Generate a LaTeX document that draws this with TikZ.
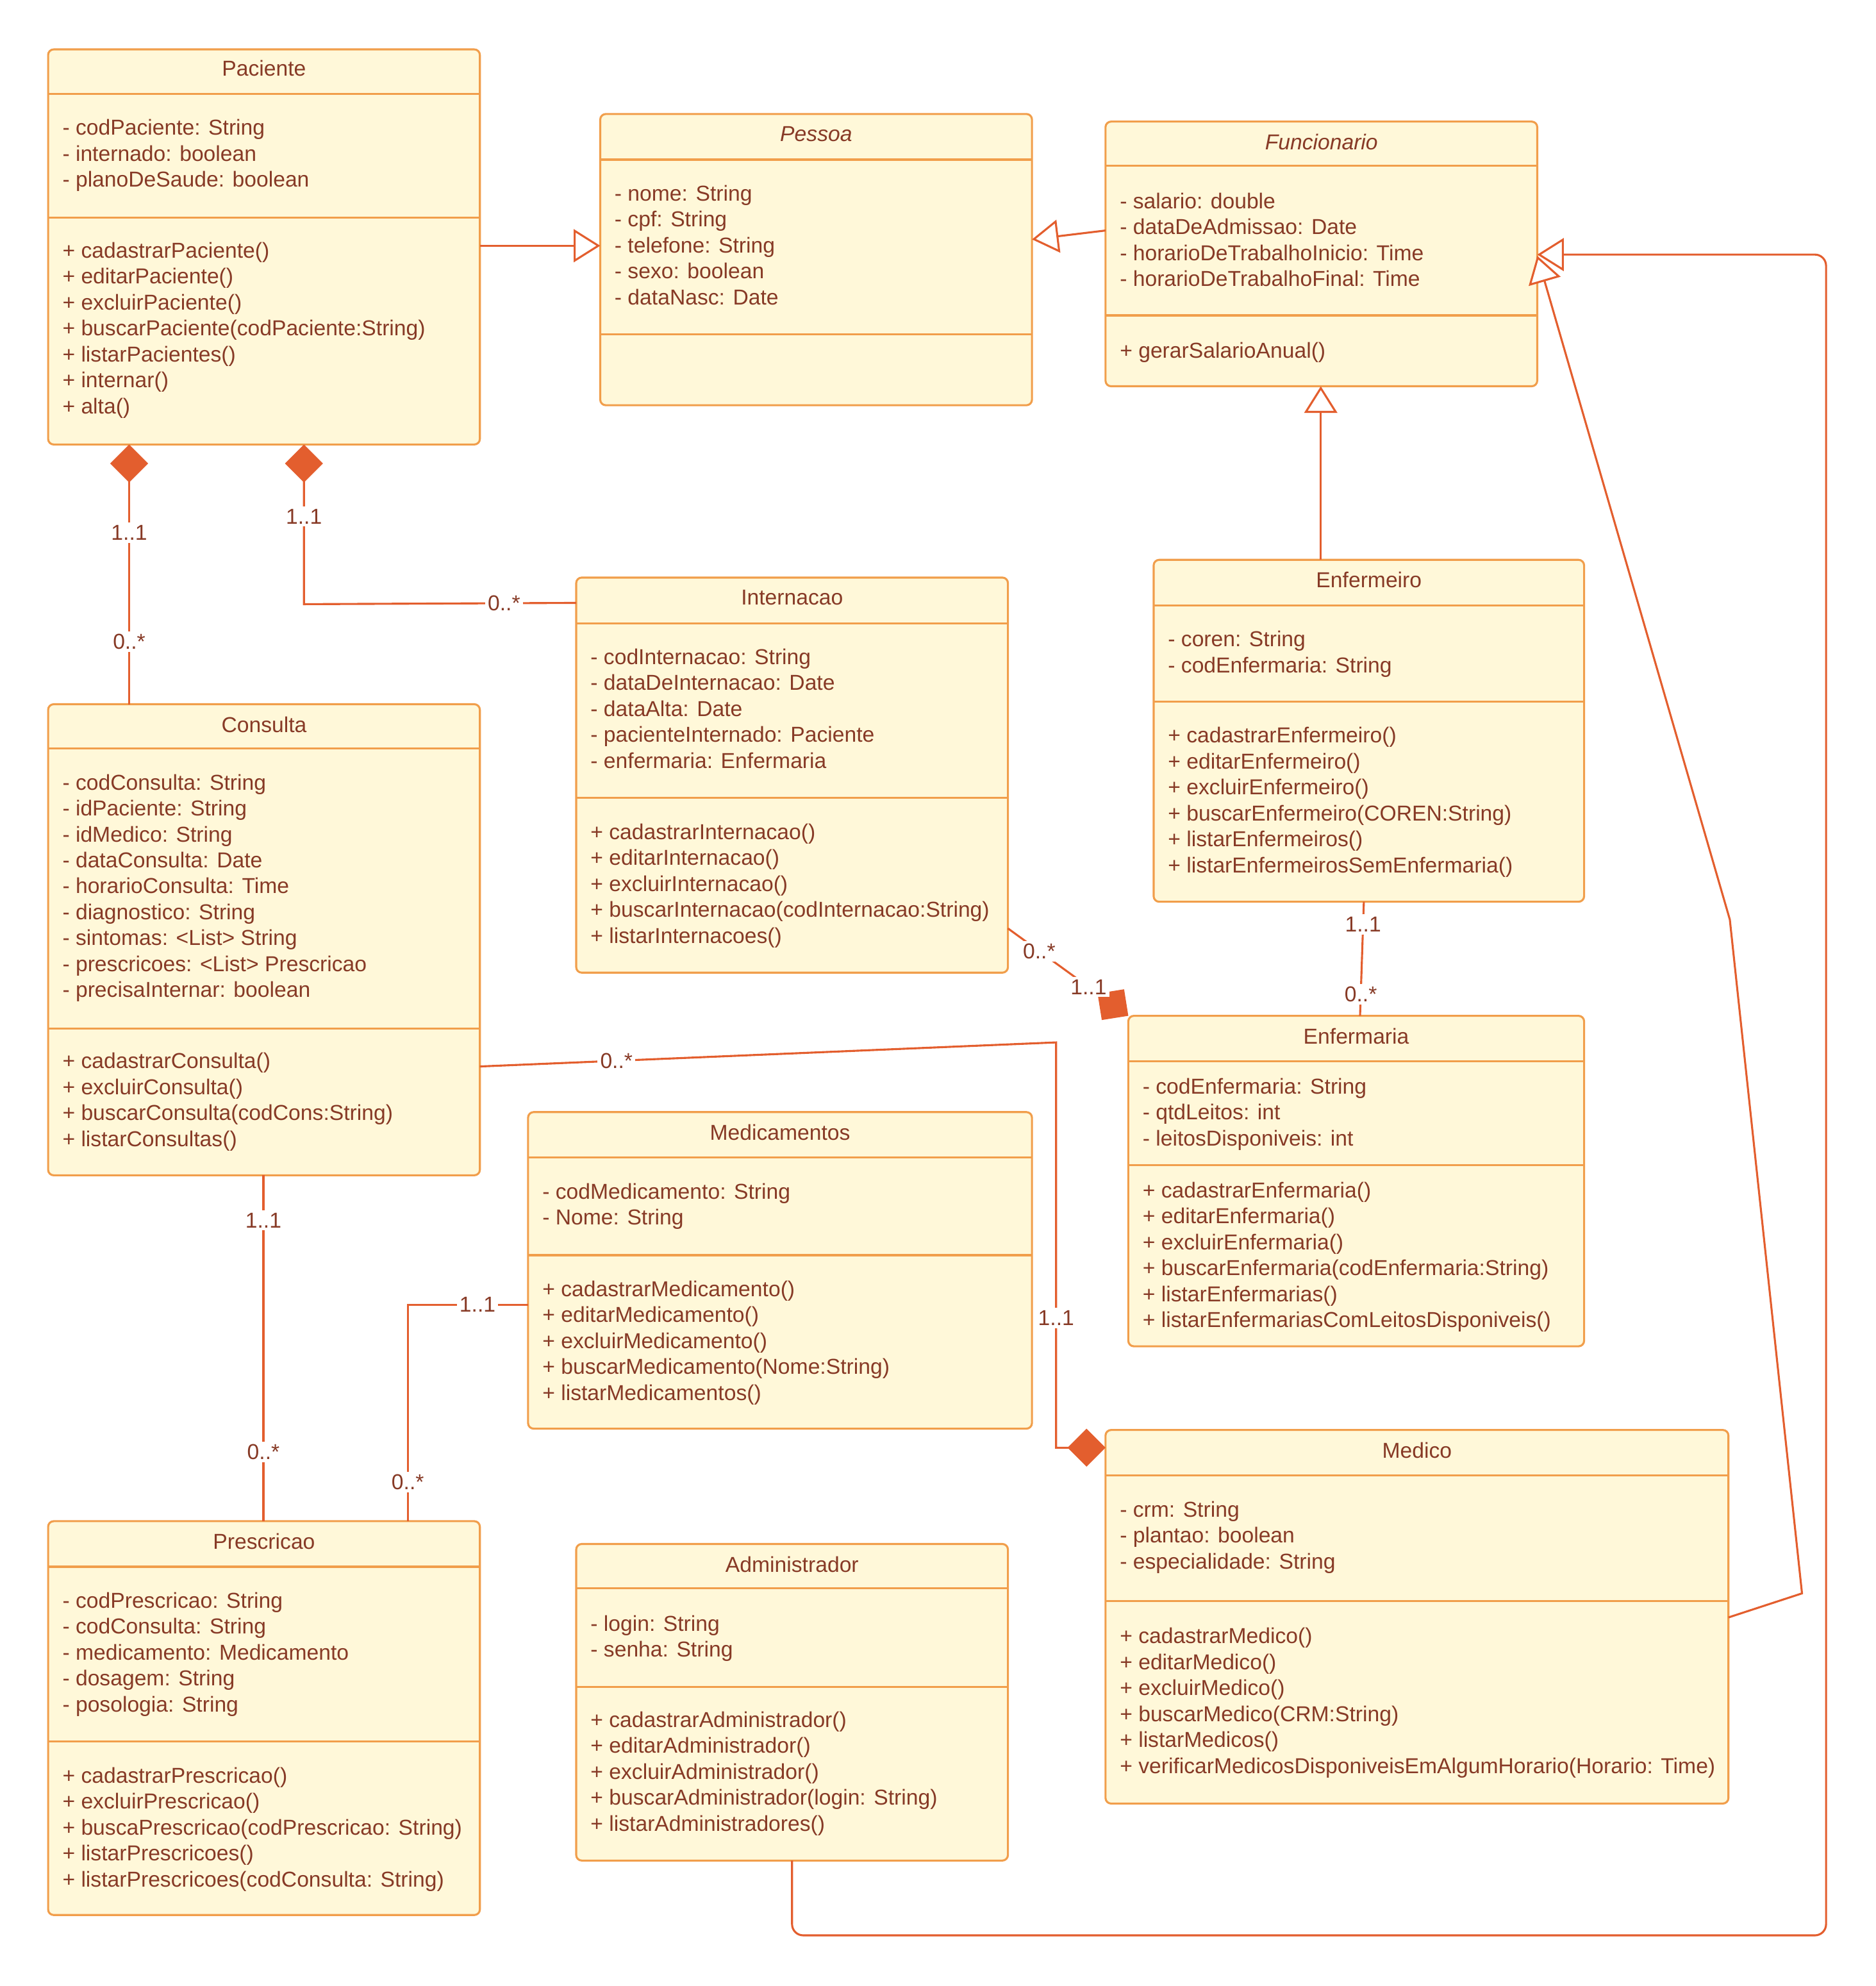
\documentclass[tikz,border=0pt]{standalone}
\usepackage{fontspec}
\setmainfont{Liberation Sans}
\usepackage{xcolor}
\usetikzlibrary{arrows.meta, positioning, calc}
\definecolor{clsfill}{HTML}{FFF8D9}
\definecolor{clsdraw}{HTML}{F19E4B}
\definecolor{linkc}{HTML}{E35E2E}
\definecolor{txtc}{HTML}{873A26}

\begin{document}
\begin{tikzpicture}[
  x=0.02cm, y=-0.02cm,
  font=\fontsize{9.7}{11.66}\selectfont, text=txtc,
  cls/.style={rectangle, rounded corners=2.5pt, draw=clsdraw, fill=clsfill,
              line width=0.9pt, anchor=north west, inner sep=0pt, outer sep=0pt},
  sep/.style={draw=clsdraw, line width=0.9pt},
  ttl/.style={anchor=center, inner sep=0pt},
  mbr/.style={anchor=north west, align=left, inner sep=0pt},
  gen/.style={draw=linkc, line width=0.9pt,
              -{Triangle[length=4.2mm, width=5.2mm, fill=white]}},
  comp/.style={draw=linkc, line width=0.9pt,
               -{Diamond[length=6mm, width=6mm, fill=linkc]}},
  assoc/.style={draw=linkc, line width=0.9pt},
  mult/.style={fill=white, inner sep=1.2pt, text=txtc}
]
\useasboundingbox (0,0) rectangle (1481,1568);
%% class boxes (coordinates in px of the layout)
\node[cls, minimum width=6.82cm, minimum height=6.24cm] (c_pac)  at (38,39)   {};
\node[cls, minimum width=6.82cm, minimum height=4.60cm] (c_pes)  at (474,90)  {};
\node[cls, minimum width=6.82cm, minimum height=4.18cm] (c_fun)  at (873,96)  {};
\node[cls, minimum width=6.80cm, minimum height=5.40cm] (c_enf)  at (911,442) {};
\node[cls, minimum width=6.82cm, minimum height=6.24cm] (c_int)  at (455,456) {};
\node[cls, minimum width=6.82cm, minimum height=7.44cm] (c_con)  at (38,556)  {};
\node[cls, minimum width=7.20cm, minimum height=5.22cm] (c_enm)  at (891,802) {};
\node[cls, minimum width=7.96cm, minimum height=5.00cm] (c_med)  at (417,878) {};
\node[cls, minimum width=9.84cm, minimum height=5.90cm] (c_mdc)  at (873,1129) {};
\node[cls, minimum width=6.82cm, minimum height=6.22cm] (c_pre)  at (38,1201) {};
\node[cls, minimum width=6.82cm, minimum height=5.00cm] (c_adm)  at (455,1219) {};
%% compartment lines
\draw[sep] (38,74) -- (379,74);     \draw[sep] (38,172) -- (379,172);
\draw[sep] (474,126) -- (815,126);  \draw[sep] (474,264) -- (815,264);
\draw[sep] (873,131) -- (1214,131); \draw[sep] (873,249) -- (1214,249);
\draw[sep] (911,478) -- (1251,478); \draw[sep] (911,554) -- (1251,554);
\draw[sep] (455,492) -- (796,492);  \draw[sep] (455,630) -- (796,630);
\draw[sep] (38,591) -- (379,591);   \draw[sep] (38,812) -- (379,812);
\draw[sep] (891,838) -- (1251,838); \draw[sep] (891,920) -- (1251,920);
\draw[sep] (417,914) -- (815,914);  \draw[sep] (417,991) -- (815,991);
\draw[sep] (873,1165) -- (1365,1165); \draw[sep] (873,1264) -- (1365,1264);
\draw[sep] (38,1237) -- (379,1237); \draw[sep] (38,1375) -- (379,1375);
\draw[sep] (455,1254) -- (796,1254); \draw[sep] (455,1332) -- (796,1332);
%% titles
\node[ttl] (t_pac) at (208.5,54)  {Paciente};
\node[ttl] (t_pes) at (644.5,106) {\itshape Pessoa};
\node[ttl] (t_fun) at (1043.5,112) {\itshape Funcionario};
\node[ttl] (t_enf) at (1081,458)  {Enfermeiro};
\node[ttl] (t_int) at (625.5,472) {Internacao};
\node[ttl] (t_con) at (208.5,572) {Consulta};
\node[ttl] (t_enm) at (1071,818)  {Enfermaria};
\node[ttl] (t_med) at (616,894)   {Medicamentos};
\node[ttl] (t_mdc) at (1119,1145) {Medico};
\node[ttl] (t_pre) at (208.5,1217) {Prescricao};
\node[ttl] (t_adm) at (625.5,1235) {Administrador};
%% attributes and methods
\node[mbr] (a_pac) at (49,91.9) {\strut- codPaciente: String\\- internado: boolean\\- planoDeSaude: boolean};
\node[mbr] (m_pac) at (49,188.9) {\strut+ cadastrarPaciente()\\+ editarPaciente()\\+ excluirPaciente()\\
  + buscarPaciente(codPaciente:String)\\+ listarPacientes()\\+ internar()\\+ alta()};
\node[mbr] (a_pes) at (485,143.9) {\strut- nome: String\\- cpf: String\\- telefone: String\\- sexo: boolean\\- dataNasc: Date};
\node[mbr] (a_fun) at (884,149.9) {\strut- salario: double\\- dataDeAdmissao: Date\\
  - horarioDeTrabalhoInicio: Time\\- horarioDeTrabalhoFinal: Time};
\node[mbr] (m_fun) at (884,267.9) {\strut+ gerarSalarioAnual()};
\node[mbr] (a_enf) at (922,495.9) {\strut- coren: String\\- codEnfermaria: String};
\node[mbr] (m_enf) at (922,571.9) {\strut+ cadastrarEnfermeiro()\\+ editarEnfermeiro()\\+ excluirEnfermeiro()\\
  + buscarEnfermeiro(COREN:String)\\+ listarEnfermeiros()\\+ listarEnfermeirosSemEnfermaria()};
\node[mbr] (a_int) at (466,509.9) {\strut- codInternacao: String\\- dataDeInternacao: Date\\- dataAlta: Date\\
  - pacienteInternado: Paciente\\- enfermaria: Enfermaria};
\node[mbr] (m_int) at (466,647.9) {\strut+ cadastrarInternacao()\\+ editarInternacao()\\+ excluirInternacao()\\
  + buscarInternacao(codInternacao:String)\\+ listarInternacoes()};
\node[mbr] (a_con) at (49,608.9) {\strut- codConsulta: String\\- idPaciente: String\\- idMedico: String\\
  - dataConsulta: Date\\- horarioConsulta: Time\\- diagnostico: String\\- sintomas: <List> String\\
  - prescricoes: <List> Prescricao\\- precisaInternar: boolean};
\node[mbr] (m_con) at (49,828.9) {\strut+ cadastrarConsulta()\\+ excluirConsulta()\\
  + buscarConsulta(codCons:String)\\+ listarConsultas()};
\node[mbr] (a_enm) at (902,848.9) {\strut- codEnfermaria: String\\- qtdLeitos: int\\- leitosDisponiveis: int};
\node[mbr] (m_enm) at (902,930.9) {\strut+ cadastrarEnfermaria()\\+ editarEnfermaria()\\+ excluirEnfermaria()\\
  + buscarEnfermaria(codEnfermaria:String)\\+ listarEnfermarias()\\+ listarEnfermariasComLeitosDisponiveis()};
\node[mbr] (a_med) at (428,931.9) {\strut- codMedicamento: String\\- Nome: String};
\node[mbr] (m_med) at (428,1008.9) {\strut+ cadastrarMedicamento()\\+ editarMedicamento()\\+ excluirMedicamento()\\
  + buscarMedicamento(Nome:String)\\+ listarMedicamentos()};
\node[mbr] (a_mdc) at (884,1182.9) {\strut- crm: String\\- plantao: boolean\\- especialidade: String};
\node[mbr] (m_mdc) at (884,1282.9) {\strut+ cadastrarMedico()\\+ editarMedico()\\+ excluirMedico()\\
  + buscarMedico(CRM:String)\\+ listarMedicos()\\+ verificarMedicosDisponiveisEmAlgumHorario(Horario: Time)};
\node[mbr] (a_pre) at (49,1254.9) {\strut- codPrescricao: String\\- codConsulta: String\\- medicamento: Medicamento\\
  - dosagem: String\\- posologia: String};
\node[mbr] (m_pre) at (49,1392.9) {\strut+ cadastrarPrescricao()\\+ excluirPrescricao()\\
  + buscaPrescricao(codPrescricao: String)\\+ listarPrescricoes()\\+ listarPrescricoes(codConsulta: String)};
\node[mbr] (a_adm) at (466,1272.9) {\strut- login: String\\- senha: String};
\node[mbr] (m_adm) at (466,1348.9) {\strut+ cadastrarAdministrador()\\+ editarAdministrador()\\+ excluirAdministrador()\\
  + buscarAdministrador(login: String)\\+ listarAdministradores()};
%% generalizations
\draw[gen] (c_pac.east |- 0,194) -- (c_pes.west |- 0,194);
\draw[gen] (c_fun.west |- 0,182) -- (c_pes.east |- 0,189);
\draw[gen] (1043,0 |- c_enf.north) -- (1043,0 |- c_fun.south);
\draw[gen] (c_mdc.east |- 0,1277) -- (1423,1258) -- (1366,726) -- (c_fun.east |- 0,202);
\draw[gen, rounded corners=5pt] (c_adm.south) -- (c_adm.south |- 0,1528) -- (1442,1528) -- (1442,201)
    -- (c_fun.east |- 0,201);
%% compositions
\draw[comp] (102,0 |- c_con.north)
    -- node[mult, pos=0.24] {0..*} node[mult, pos=0.66] {1..1} (102,0 |- c_pac.south);
\draw[comp] (c_int.west |- 0,476) -- node[mult, pos=0.265] {0..*} (240,477)
    -- node[mult, pos=0.55] {1..1} (240,0 |- c_pac.south);
\draw[comp] (c_int.east |- 0,733)
    -- node[mult, pos=0.26] {0..*} node[mult, pos=0.67] {1..1} (c_enm.north west);
\draw[comp] (c_con.east |- 0,842) -- node[mult, pos=0.237] {0..*} (834,823)
    -- node[mult, pos=0.68] {1..1} (834,1143) -- (c_mdc.west |- 0,1143);
%% associations
\draw[assoc] (1077,0 |- c_enf.south)
    -- node[mult, pos=0.2] {1..1} node[mult, pos=0.81] {0..*} (1074,0 |- c_enm.north);
\draw[assoc] (208,0 |- c_con.south)
    -- node[mult, pos=0.13] {1..1} node[mult, pos=0.8] {0..*} (208,0 |- c_pre.north);
\draw[assoc] (c_med.west |- 0,1030) -- node[mult, pos=0.42] {1..1} (322,1030)
    -- node[mult, pos=0.82] {0..*} (322,0 |- c_pre.north);
\end{tikzpicture}
\end{document}
